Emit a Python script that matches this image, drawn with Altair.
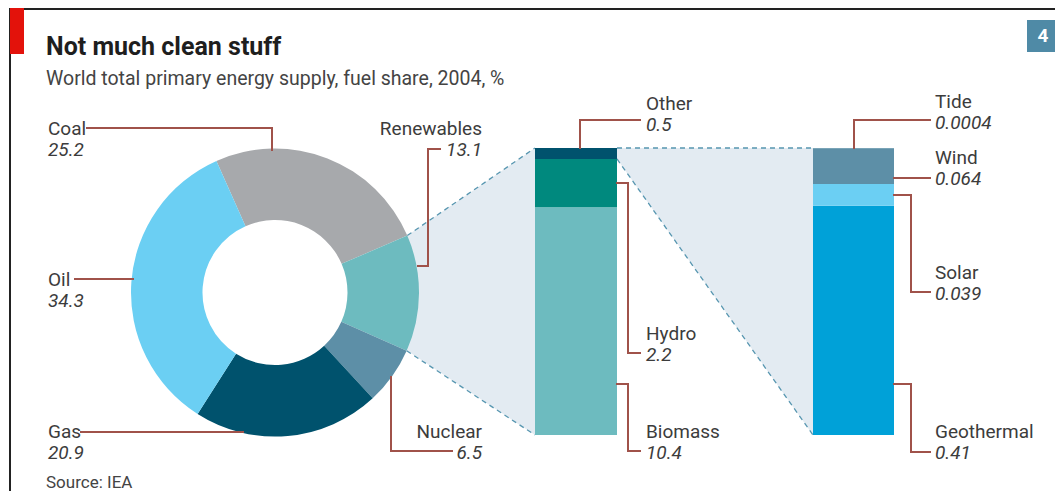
import math
import altair as alt
import pandas as pd

# ---------------- data ----------------
main_names = ["Coal", "Renewables", "Nuclear", "Gas", "Oil"]
main_values = [25.2, 13.1, 6.5, 20.9, 34.3]

renew_names = ["Biomass", "Hydro", "Other"]
renew_values = [10.4, 2.2, 0.5]

other_names = ["Geothermal", "Solar", "Wind", "Tide"]
other_values = [0.41, 0.039, 0.064, 0.0004]

# ---------------- styles ----------------
main_colors = ["#a7a9ac", "#6dbbbf", "#5d8fa7", "#00526d", "#6bcff3"]
renew_colors = ["#6dbbbf", "#00897e", "#00526d"]
other_colors = ["#00a1d8", "#6bcff3", "#5d8fa7", "#5d8fa7"]
LEADER = "#a0524a"
DASH = "#5796b0"
FILL = "#e3ebf2"
TXT = "#3c3c3c"
FONT = "Roboto"
LABEL_SIZE = 19

# ---------------- layout (image pixel coords) ----------------
OX, OY = 8, 8
W, H = 1047, 483
XS = alt.Scale(domain=[OX, OX + W], range=[0, W])
YS = alt.Scale(domain=[OY, OY + H], range=[0, H])

CX, CY = 275, 292.5
R_OUT, R_IN = 144, 72.5
START = math.radians(-24)

BAR_TOP, BAR_BOT = 148, 435
BAR1_X0, BAR1_X1 = 535, 617
BAR2_X0, BAR2_X1 = 813, 894

label_pos = {
    "Coal": (48, 135, "left"), "Oil": (48, 286, "left"), "Gas": (48, 438, "left"),
    "Renewables": (482, 135, "right"), "Nuclear": (482, 438, "right"),
    "Other": (646, 110, "left"), "Hydro": (646, 340, "left"), "Biomass": (646, 438, "left"),
    "Tide": (935, 108, "left"), "Wind": (935, 164, "left"), "Solar": (935, 279, "left"),
    "Geothermal": (935, 438, "left"),
}

leader_paths = {
    "Coal": [(87, 128), (272, 128), (272, 150)],
    "Oil": [(75, 279), (133, 279)],
    "Gas": [(81, 432), (243, 432)],
    "Nuclear": [(391, 377), (391, 451), (452, 451)],
    "Renewables": [(418, 266), (428, 266), (428, 149), (440, 149)],
    "Other": [(580, 148), (580, 120), (640, 120)],
    "Hydro": [(617, 183), (628, 183), (628, 353), (640, 353)],
    "Biomass": [(617, 384), (628, 384), (628, 451), (640, 451)],
    "Tide": [(854, 148), (854, 120), (930, 120)],
    "Wind": [(894, 178), (930, 178)],
    "Solar": [(894, 195), (911, 195), (911, 292), (930, 292)],
    "Geothermal": [(894, 384), (911, 384), (911, 452), (930, 452)],
}


def px(v):
    return v - OX


def py(v):
    return v - OY


one = pd.DataFrame({"k": [0]})

# ---------------- frame ----------------
frame = alt.Chart(one).mark_rect(color="#222222").encode(
    x=alt.value(px(10)), x2=alt.value(W), y=alt.value(py(8)), y2=alt.value(py(10)))
frame_left = alt.Chart(one).mark_rect(color="#222222").encode(
    x=alt.value(px(9)), x2=alt.value(px(11)), y=alt.value(py(8)), y2=alt.value(H))
redbar = alt.Chart(one).mark_rect(color="#e3120b").encode(
    x=alt.value(px(10)), x2=alt.value(px(24)), y=alt.value(py(8)), y2=alt.value(py(54)))

# ---------------- donut ----------------
total = sum(main_values)
df_main = pd.DataFrame({"name": main_names, "value": main_values, "idx": range(len(main_names))})
donut = alt.Chart(df_main).mark_arc(radius=R_OUT, radius2=R_IN).encode(
    theta=alt.Theta("value:Q", stack=True,
                    scale=alt.Scale(range=[START, START + 2 * math.pi])),
    order=alt.Order("idx:Q"),
    color=alt.Color("name:N", scale=alt.Scale(domain=main_names, range=main_colors), legend=None),
    x=alt.value(px(CX)), y=alt.value(py(CY)),
)

# renewables slice corners
ri = main_names.index("Renewables")
a1 = START + 2 * math.pi * sum(main_values[:ri]) / total
a2 = START + 2 * math.pi * sum(main_values[:ri + 1]) / total
p1 = (CX + R_OUT * math.sin(a1), CY - R_OUT * math.cos(a1))
p2 = (CX + R_OUT * math.sin(a2), CY - R_OUT * math.cos(a2))

# "Other" segment in bar 1
rtot = sum(renew_values)
other_bottom = BAR_TOP + (BAR_BOT - BAR_TOP) * renew_values[renew_names.index("Other")] / rtot

# ---------------- connector fills ----------------
trap1 = pd.DataFrame({"x": [p1[0], BAR1_X0], "y": [p1[1], BAR_TOP], "y2": [p2[1], BAR_BOT]})
trap2 = pd.DataFrame({"x": [BAR1_X1, BAR2_X0], "y": [BAR_TOP, BAR_TOP], "y2": [other_bottom, BAR_BOT]})


def area_layer(df):
    return alt.Chart(df).mark_area(color=FILL, opacity=1).encode(
        x=alt.X("x:Q", scale=XS, axis=None),
        y=alt.Y("y:Q", scale=YS, axis=None),
        y2="y2:Q",
    )


dash_df = pd.DataFrame({
    "x": [p1[0], p2[0], BAR1_X1, BAR1_X1],
    "y": [p1[1], p2[1], BAR_TOP, other_bottom],
    "x2": [BAR1_X0, BAR1_X0, BAR2_X0, BAR2_X0],
    "y2": [BAR_TOP, BAR_BOT, BAR_TOP, BAR_BOT],
})
dashes = alt.Chart(dash_df).mark_rule(color=DASH, strokeWidth=1.3, strokeDash=[5, 4]).encode(
    x=alt.X("x:Q", scale=XS, axis=None), y=alt.Y("y:Q", scale=YS, axis=None),
    x2="x2:Q", y2="y2:Q",
)


# ---------------- stacked bars ----------------
def bar_layer(names, values, colors, x0, x1):
    df = pd.DataFrame({"name": names, "value": values, "idx": range(len(names))})
    return alt.Chart(df).transform_stack(
        stack="value", groupby=[], as_=["v0", "v1"], sort=[alt.SortField("idx")]
    ).mark_rect().encode(
        x=alt.value(px(x0)), x2=alt.value(px(x1)),
        y=alt.Y("v0:Q",
                scale=alt.Scale(domain=[0, sum(values)], range=[py(BAR_BOT), py(BAR_TOP)]),
                axis=None),
        y2="v1:Q",
        color=alt.Color("name:N", scale=alt.Scale(domain=names, range=colors), legend=None),
    )


bar1 = bar_layer(renew_names, renew_values, renew_colors, BAR1_X0, BAR1_X1)
bar2 = bar_layer(other_names, other_values, other_colors, BAR2_X0, BAR2_X1)

# ---------------- leader lines ----------------
segs = []
for nm, pts in leader_paths.items():
    for (xa, ya), (xb, yb) in zip(pts[:-1], pts[1:]):
        segs.append({"x": xa, "y": ya, "x2": xb, "y2": yb})
leaders = alt.Chart(pd.DataFrame(segs)).mark_rule(
    color=LEADER, strokeWidth=2, strokeCap="square").encode(
    x=alt.X("x:Q", scale=XS, axis=None), y=alt.Y("y:Q", scale=YS, axis=None),
    x2="x2:Q", y2="y2:Q",
)

# ---------------- labels ----------------
all_values = dict(zip(main_names, main_values))
all_values.update(zip(renew_names, renew_values))
all_values.update(zip(other_names, other_values))

rows = []
for nm, (lx, ly, al) in label_pos.items():
    rows.append({"x": lx, "y": ly, "text": nm, "align": al, "kind": "name"})
    rows.append({"x": lx, "y": ly + 21, "text": str(all_values[nm]), "align": al, "kind": "value"})
lab = pd.DataFrame(rows)


def text_layer(df, align, italic):
    return alt.Chart(df).mark_text(
        align=align, baseline="alphabetic", font=FONT, fontSize=LABEL_SIZE,
        fontStyle="italic" if italic else "normal", color=TXT,
    ).encode(
        x=alt.X("x:Q", scale=XS, axis=None), y=alt.Y("y:Q", scale=YS, axis=None),
        text="text:N",
    )


texts = []
for al in ["left", "right"]:
    for kind in ["name", "value"]:
        sub = lab[(lab["align"] == al) & (lab["kind"] == kind)]
        texts.append(text_layer(sub, al, kind == "value"))

title = alt.Chart(one).mark_text(
    text="Not much clean stuff", align="left", baseline="alphabetic",
    font=FONT, fontSize=25, fontWeight="bold", color="#1e1e1e",
).encode(x=alt.value(px(46)), y=alt.value(py(55)))
subtitle = alt.Chart(one).mark_text(
    text="World total primary energy supply, fuel share, 2004, %", align="left",
    baseline="alphabetic", font=FONT, fontSize=19.5, color="#444444",
).encode(x=alt.value(px(46)), y=alt.value(py(85)))
source = alt.Chart(one).mark_text(
    text="Source: IEA", align="left", baseline="alphabetic",
    font=FONT, fontSize=17, color="#444444",
).encode(x=alt.value(px(46)), y=alt.value(py(488)))

box = alt.Chart(one).mark_rect(color="#4f8aa6").encode(
    x=alt.value(px(1027)), x2=alt.value(px(1059)), y=alt.value(py(20)), y2=alt.value(py(52)))
box_txt = alt.Chart(one).mark_text(
    text="4", align="center", baseline="middle", font=FONT, fontSize=19,
    fontWeight="bold", color="white",
).encode(x=alt.value(px(1043)), y=alt.value(py(36)))

chart = alt.layer(
    frame, frame_left, redbar,
    area_layer(trap1), area_layer(trap2), dashes,
    donut, bar1, bar2, leaders,
    *texts, title, subtitle, source, box, box_txt,
).resolve_scale(
    x="independent", y="independent", color="independent", theta="independent"
).properties(
    width=W, height=H, padding=0,
    autosize=alt.AutoSizeParams(type="none"),
    background="white",
).configure_view(strokeWidth=0)

chart.save("out.html", embed_options={"renderer": "svg", "actions": False})
